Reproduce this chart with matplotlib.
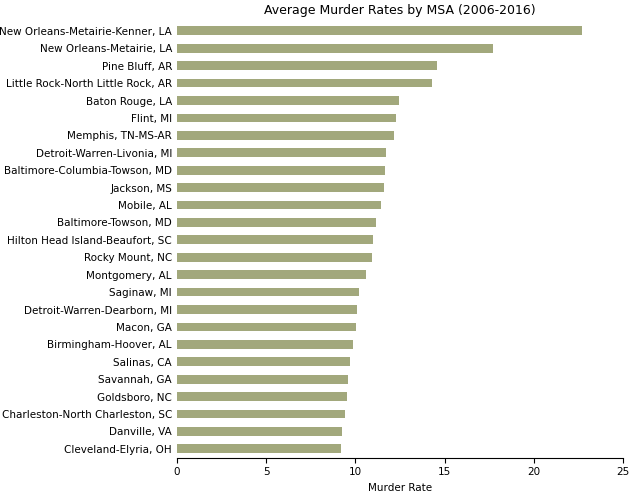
import matplotlib
matplotlib.use("Agg")
import matplotlib.pyplot as plt

msas = [
    "New Orleans-Metairie-Kenner, LA", "New Orleans-Metairie, LA", "Pine Bluff, AR",
    "Little Rock-North Little Rock, AR", "Baton Rouge, LA", "Flint, MI",
    "Memphis, TN-MS-AR", "Detroit-Warren-Livonia, MI", "Baltimore-Columbia-Towson, MD",
    "Jackson, MS", "Mobile, AL", "Baltimore-Towson, MD", "Hilton Head Island-Beaufort, SC",
    "Rocky Mount, NC", "Montgomery, AL", "Saginaw, MI", "Detroit-Warren-Dearborn, MI",
    "Macon, GA", "Birmingham-Hoover, AL", "Salinas, CA", "Savannah, GA", "Goldsboro, NC",
    "Charleston-North Charleston, SC", "Danville, VA", "Cleveland-Elyria, OH",
]
rates = [22.7, 17.71, 14.57, 14.29, 12.44, 12.28, 12.16, 11.71, 11.66, 11.60, 11.43,
         11.15, 10.99, 10.93, 10.59, 10.20, 10.09, 10.03, 9.87, 9.70, 9.59, 9.53,
         9.42, 9.25, 9.19]

fig, ax = plt.subplots(figsize=(6.36, 4.92), dpi=100)
pos = range(len(msas))
ax.barh(pos, rates, height=0.5, color="#a2a87c")
ax.set_yticks(list(pos))
ax.set_yticklabels(msas, fontsize=7.5)
ax.invert_yaxis()
ax.set_ylim(len(msas) - 0.5, -0.5)
ax.set_xlim(0, 25)
ax.tick_params(axis="x", labelsize=7.5)
ax.tick_params(axis="y", length=0)
ax.set_xlabel("Murder Rate", fontsize=7.5)
ax.set_title("Average Murder Rates by MSA (2006-2016)", fontsize=9)
for s in ("top", "right", "left"):
    ax.spines[s].set_visible(False)

fig.subplots_adjust(left=0.278, right=0.98, top=0.955, bottom=0.07)
fig.savefig("out.png", dpi=100)
